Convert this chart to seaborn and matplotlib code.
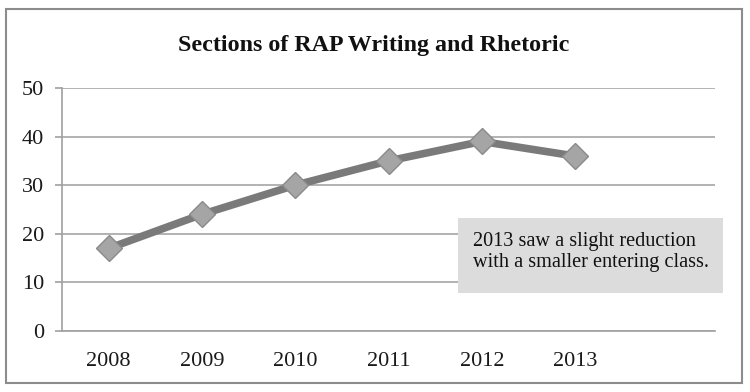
import numpy as np
import matplotlib.pyplot as plt
import seaborn as sns
from matplotlib.patches import Rectangle

years = ['2008', '2009', '2010', '2011', '2012', '2013']
sections = [17, 24, 30, 35, 39, 36]
y_ticks = [0, 10, 20, 30, 40, 50]
title = 'Sections of RAP Writing and Rhetoric'
note = '2013 saw a slight reduction\nwith a smaller entering class.'

sns.set_theme(style='white')
plt.rcParams['font.family'] = ['Liberation Serif', 'DejaVu Serif']

W, H = 750, 392
fig = plt.figure(figsize=(7.5, 3.92), dpi=100)
ax = fig.add_axes([62 / W, 61 / H, 653 / W, 243 / H])

x = np.arange(len(years))
sns.lineplot(x=x, y=sections, ax=ax, color='#7a7a7a', linewidth=5.5,
             marker='D', markersize=13, markerfacecolor='#a5a5a5',
             markeredgecolor='#8a8a8a', markeredgewidth=1)

# one empty category slot on the right, like the original sheet
ax.set_xlim(-0.5, len(years) + 0.5)
ax.set_ylim(0, 50)
ax.set_yticks(y_ticks)
ax.set_xticks(x)
ax.set_xticklabels(years)
ax.set_xticks(np.arange(-0.5, len(years) + 1), minor=True)
ax.tick_params(axis='x', which='major', length=0, pad=15, labelsize=16, colors='#1a1a1a')
ax.tick_params(axis='x', which='minor', length=5, width=1.2, color='#a0a0a0', direction='out')
ax.tick_params(axis='y', length=5, width=1.2, pad=8, labelsize=16, left=True,
               color='#a0a0a0', labelcolor='#1a1a1a')

ax.yaxis.grid(True, color='#a6a6a6', linewidth=1.2)
ax.set_axisbelow(True)
for side in ['top', 'right']:
    ax.spines[side].set_visible(False)
for side in ['left', 'bottom']:
    ax.spines[side].set_color('#a0a0a0')
    ax.spines[side].set_linewidth(1.2)
ax.set_xlabel('')
ax.set_ylabel('')

fig.text(374 / W, 1 - 46 / H, title, ha='center', va='center',
         fontsize=17.3, fontweight='bold', color='#111111')

# annotation box
fig.add_artist(Rectangle((458 / W, 1 - 293 / H), 265 / W, 75 / H,
                         transform=fig.transFigure, facecolor='#dcdcdc', edgecolor='none'))
fig.text(473 / W, 1 - 232 / H, note, ha='left', va='top', fontsize=14.6,
         color='#111111', linespacing=1.15)

# outer chart frame
fig.add_artist(Rectangle((6 / W, 9 / H), 736 / W, 374 / H, transform=fig.transFigure,
                         fill=False, edgecolor='#8c8c8c', linewidth=1.5))

fig.savefig('out.png', dpi=100)
